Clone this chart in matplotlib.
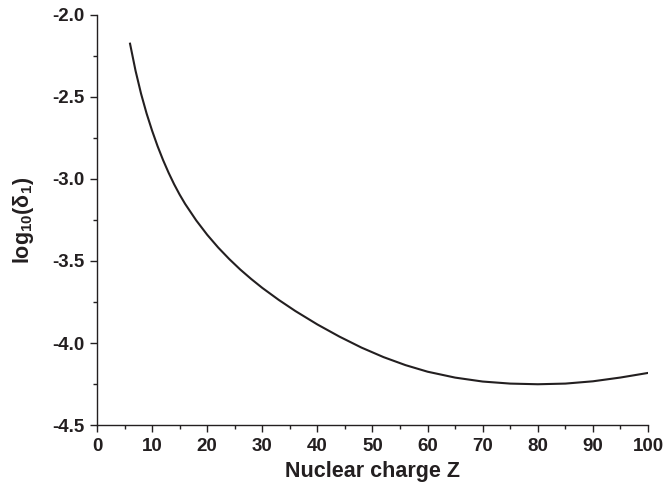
import numpy as np
import matplotlib
matplotlib.use("Agg")
import matplotlib.pyplot as plt
from matplotlib.ticker import MultipleLocator, FormatStrFormatter

# Data
nuclear_charge = [6, 7, 8, 9, 10, 11, 12, 13, 14, 15, 16, 18, 20, 22, 24, 26,
                  28, 30, 33, 36, 40, 44, 48, 52, 56, 60, 65, 70, 75, 80, 85,
                  90, 95, 100]
log_delta = [-2.175, -2.34, -2.48, -2.60, -2.705, -2.80, -2.885, -2.962,
             -3.032, -3.095, -3.152, -3.252, -3.34, -3.418, -3.488, -3.552,
             -3.61, -3.664, -3.7375, -3.805, -3.887, -3.961, -4.028, -4.086,
             -4.135, -4.175, -4.211, -4.235, -4.2475, -4.2515, -4.2475,
             -4.2335, -4.2105, -4.1825]

INK = '#231f20'

plt.rcParams['font.family'] = ['Liberation Sans', 'DejaVu Sans']
plt.rcParams['font.weight'] = 'bold'
plt.rcParams['mathtext.fontset'] = 'custom'
plt.rcParams['mathtext.rm'] = 'Liberation Sans:bold'
plt.rcParams['mathtext.default'] = 'rm'

fig = plt.figure(figsize=(6.66, 4.91), dpi=100)
ax = fig.add_axes([0.1456, 0.1344, 0.8274, 0.8351])

ax.plot(nuclear_charge, log_delta, color=INK, lw=1.5, solid_joinstyle='round')

ax.set_xlim(0, 100)
ax.set_ylim(-4.5, -2.0)
ax.xaxis.set_major_locator(MultipleLocator(10))
ax.xaxis.set_minor_locator(MultipleLocator(5))
ax.yaxis.set_major_locator(MultipleLocator(0.5))
ax.yaxis.set_minor_locator(MultipleLocator(0.25))
ax.yaxis.set_major_formatter(FormatStrFormatter('%.1f'))

for side in ['top', 'right']:
    ax.spines[side].set_visible(False)
for side in ['left', 'bottom']:
    ax.spines[side].set_linewidth(1.0)
    ax.spines[side].set_color(INK)

ax.tick_params(which='major', direction='out', length=5, width=1.0,
               color=INK, labelsize=13.5, labelcolor=INK, pad=4)
ax.tick_params(which='minor', direction='out', length=3, width=1.0, color=INK)

ax.set_xlabel('Nuclear charge Z', fontsize=15.5, fontweight='bold', color=INK,
              labelpad=5)
ax.set_ylabel('log$_{10}$(δ$_{1}$)', fontsize=15.5, fontweight='bold',
              color=INK, labelpad=12)

fig.savefig('out.png', dpi=100, facecolor='white')
